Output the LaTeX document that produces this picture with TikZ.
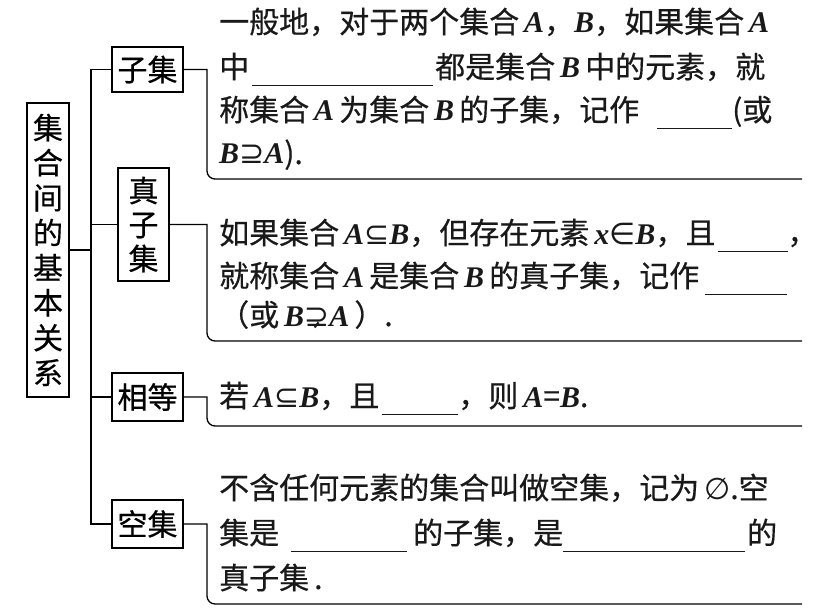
\documentclass[tikz,border=0pt]{standalone}
\usepackage{fontspec}
\setmainfont{Liberation Serif}
\newfontfamily\cjk{Noto Sans CJK SC}[FakeBold=0.5]
\newfontfamily\lat{Liberation Serif}
\newfontfamily\sym{DejaVu Sans}
\newcommand\mi[1]{{\lat\bfseries\itshape #1}}
\newcommand\sy[1]{{\sym #1}}
\newcommand\blank[1]{\rule[-8pt]{#1}{1pt}}
\begin{document}
\begin{tikzpicture}[x=1pt,y=-1pt,
  box/.style={draw, line width=1.3pt, inner sep=0pt, align=center,
    font=\cjk\fontsize{30}{35}\selectfont},
  ln/.style={line width=1.3pt},
  txt/.style={anchor=base west, inner sep=0pt, text=black!90,
    font=\cjk\fontsize{30}{30}\selectfont}]
\useasboundingbox (0,0) rectangle (816,615);

% left boxes
\node[box, minimum width=42pt, minimum height=294pt] (main) at (48,250) {集\\合\\间\\的\\基\\本\\关\\系};
\node[box, minimum width=71pt, minimum height=45pt] (zi) at (147.5,69.5) {子集};
\node[box, minimum width=51pt, minimum height=113pt, font=\cjk\fontsize{30}{34}\selectfont] (zz) at (143.5,224.5) {真\\子\\集};
\node[box, minimum width=71pt, minimum height=48pt] (xd) at (147.5,397) {相等};
\node[box, minimum width=71pt, minimum height=48pt] (kj) at (147.5,524) {空集};

% trunk
\coordinate (tt) at (91,69.5);
\coordinate (tb) at (91,524);
\draw[ln] (zi.west) -- (tt) -- (tb) -- (kj.west);
\draw[ln] (zz.west) -- (zz.west -| tt);
\draw[ln] (xd.west) -- (xd.west -| tt);
\draw[ln] (main.east) -- (main.east -| tt);

% brackets
\coordinate (b1) at (207,179);  \coordinate (e1) at (802,179);
\coordinate (b2) at (207,341);  \coordinate (e2) at (802,341);
\coordinate (b3) at (207,426);  \coordinate (e3) at (802,426);
\coordinate (b4) at (207,604);  \coordinate (e4) at (802,604);
\draw[ln] (zi.east) -- (zi.east -| b1) [rounded corners=8pt] -- (b1) -- (e1);
\draw[ln] (zz.east) -- (zz.east -| b2) [rounded corners=8pt] -- (b2) -- (e2);
\draw[ln] (xd.east) -- (xd.east -| b3) [rounded corners=8pt] -- (b3) -- (e3);
\draw[ln] (kj.east) -- (kj.east -| b4) [rounded corners=8pt] -- (b4) -- (e4);

% texts: 子集
\node[txt] (s1) at (219,33) {一般地，对于两个集合\,\mi{A}，\mi{B}，如果集合\,\mi{A}};
\node[txt] (s2) at (219,78) {中\hspace{3pt}\blank{181pt}\hspace{2pt}都是集合\,\mi{B}\,中的元素，就};
\node[txt] (s3) at (219,121) {称集合\,\mi{A}\,为集合\,\mi{B}\,的子集，记作\hspace{18pt}\blank{75pt}(或};
\node[txt] (s4) at (219,164) {\mi{B}\sy{⊇}\mi{A}).};

% 真子集
\node[txt] (p1) at (219,244) {如果集合\,\mi{A}\sy{⊆}\mi{B}，但存在元素\,\mi{x}\sy{∈}\mi{B}，且\hspace{2pt}\blank{70pt}，};
\node[txt] (p2) at (219,287) {就称集合\,\mi{A}\,是集合\,\mi{B}\,的真子集，记作\hspace{6pt}\blank{82pt}};
\node[txt] (p3) at (219,326) {（或\,\mi{B}\sy{⊋}\mi{A}\,）.};

% 相等
\node[txt] (q1) at (219,407) {若\,\mi{A}\sy{⊆}\mi{B}，且\hspace{3pt}\blank{76pt}，则\,\mi{A}=\mi{B}.};

% 空集
\node[txt] (k1) at (219,499) {不含任何元素的集合叫做空集，记为\,\sy{∅}.空};
\node[txt] (k2) at (219,544) {集是\hspace{12pt}\blank{116pt}\hspace{6pt}的子集，是\hspace{0pt}\blank{182pt}\hspace{2pt}的};
\node[txt] (k3) at (219,589) {真子集\,.};
\end{tikzpicture}
\end{document}
